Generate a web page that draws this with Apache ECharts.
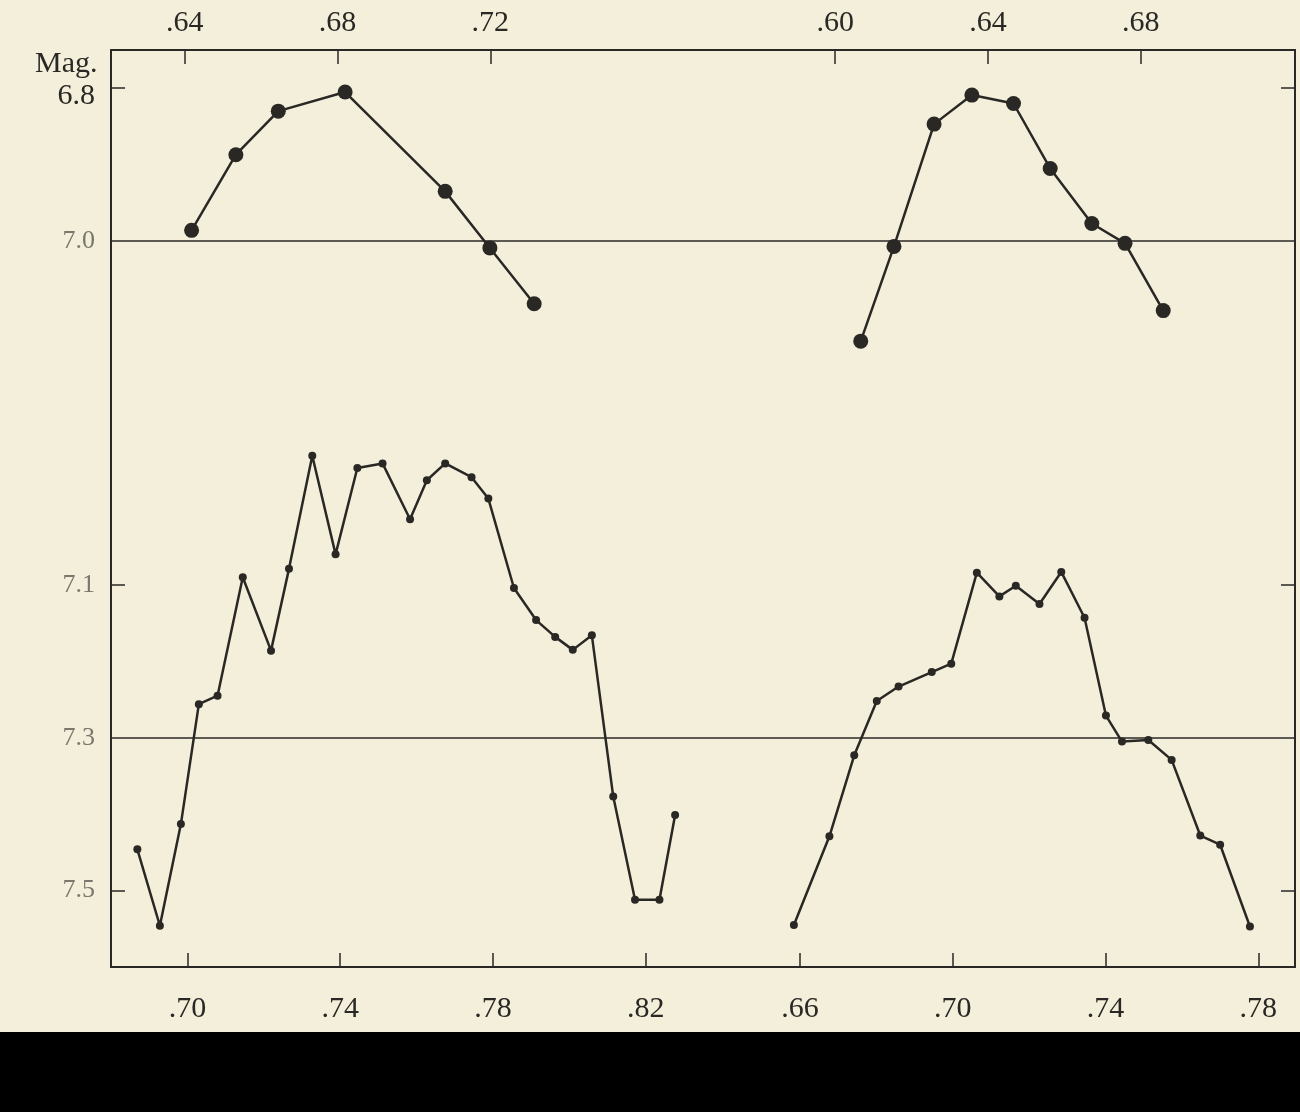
<!DOCTYPE html>
<html><head><meta charset="utf-8">
<script src="https://cdn.jsdelivr.net/npm/echarts@6/dist/echarts.min.js"></script>
<style>html,body{margin:0;padding:0;background:#f3efdb;} #c{width:1300px;height:1112px;}</style>
</head><body><div id="c"></div>
<script>
// Upper-left curve (top scale .64-.72)
const ulPhase = [0.6418, 0.6534, 0.6645, 0.6820, 0.7082, 0.7199, 0.7315];
const ulMag   = [6.986, 6.887, 6.830, 6.805, 6.935, 7.009, 7.082];
// Upper-right curve (top scale .60-.68)
const urPhase = [0.6067, 0.6154, 0.6259, 0.6358, 0.6467, 0.6563, 0.6672, 0.6759, 0.6859];
const urMag   = [7.131, 7.007, 6.847, 6.809, 6.820, 6.905, 6.977, 7.003, 7.091];
// Lower-left curve (bottom scale .70-.82)
const llPhase = [0.6869, 0.6928, 0.6983, 0.7030, 0.7079, 0.7145, 0.7219, 0.7266, 0.7327, 0.7388,
                 0.7445, 0.7511, 0.7583, 0.7627, 0.7675, 0.7744, 0.7788, 0.7855, 0.7913, 0.7963,
                 0.8009, 0.8059, 0.8115, 0.8172, 0.8236, 0.8277];
const llMag   = [7.446, 7.546, 7.413, 7.256, 7.245, 7.090, 7.186, 7.079, 6.931, 7.060,
                 6.947, 6.941, 7.014, 6.963, 6.941, 6.959, 6.987, 7.104, 7.146, 7.168,
                 7.185, 7.166, 7.377, 7.512, 7.512, 7.401];
// Lower-right curve (bottom scale .66-.78)
const lrPhase = [0.6584, 0.6677, 0.6742, 0.6801, 0.6858, 0.6945, 0.6996, 0.7063, 0.7122, 0.7165,
                 0.7227, 0.7284, 0.7345, 0.7401, 0.7443, 0.7512, 0.7573, 0.7648, 0.7700, 0.7778];
const lrMag   = [7.545, 7.429, 7.323, 7.252, 7.233, 7.214, 7.203, 7.084, 7.115, 7.101,
                 7.125, 7.083, 7.143, 7.271, 7.305, 7.303, 7.329, 7.428, 7.440, 7.547];

// Tick labels
const ulTicks = [0.64, 0.68, 0.72];
const urTicks = [0.60, 0.64, 0.68];
const llTicks = [0.70, 0.74, 0.78, 0.82];
const lrTicks = [0.66, 0.70, 0.74, 0.78];
const upperMagLabels = [6.8, 7.0];
const upperMagTicks = [6.8];
const lowerMagLabels = [7.1, 7.3, 7.5];
const lowerMagTicks = [7.1, 7.5];
const upperRefLine = 7.0;
const lowerRefLine = 7.3;

const INK = '#2a2824';
const FONT = 'Liberation Serif';
const GRID = {left: 111, top: 50, width: 1184, height: 917};

function zip(a, b) { return a.map((v, i) => [v, b[i]]); }
function phaseFmt(v) { return '.' + String(Math.round(v * 100)).padStart(2, '0'); }

function xAxis(gridIndex, position, min, max, ticks) {
  return {
    type: 'value', gridIndex, position, min, max,
    axisLine: {show: false}, splitLine: {show: false},
    axisTick: {show: true, inside: true, length: 14, customValues: ticks, lineStyle: {color: INK, width: 1.5}},
    axisLabel: {customValues: ticks, formatter: phaseFmt, margin: position === 'top' ? 12 : 27,
                color: INK, fontSize: 30, fontFamily: FONT}
  };
}
function yAxis(gridIndex, position, min, max, ticks, labels, show) {
  return {
    type: 'value', gridIndex, position, min, max, inverse: true, show: show,
    axisLine: {show: false}, splitLine: {show: false},
    axisTick: {show: ticks.length > 0, inside: true, length: 14, customValues: ticks.length ? ticks : [min],
               lineStyle: {color: INK, width: 1.5}},
    axisLabel: {show: labels.length > 0, customValues: labels.length ? labels : [min], margin: 16,
      formatter: v => Math.abs(v - 6.8) < 1e-6 ? '{d|6.8}' : '{g|' + v.toFixed(1) + '}',
      rich: {d: {color: INK, fontSize: 30, fontFamily: FONT, padding: [16, 0, 0, 0]},
             g: {color: '#7a776c', fontSize: 26, fontFamily: FONT}}}
  };
}
function lineSeries(x, y, xi, yi, size, refLine) {
  const s = {
    type: 'line', xAxisIndex: xi, yAxisIndex: yi, data: zip(x, y),
    symbol: 'circle', symbolSize: size, showSymbol: true,
    lineStyle: {color: INK, width: 2.5}, itemStyle: {color: INK}, silent: true
  };
  if (refLine !== undefined) {
    s.markLine = {silent: true, symbol: ['none', 'none'], label: {show: false},
      lineStyle: {color: INK, width: 1.5, type: 'solid'}, data: [{yAxis: refLine}]};
  }
  return s;
}

const chart = echarts.init(document.getElementById('c'));
chart.setOption({
  backgroundColor: '#f3efdb',
  animation: false,
  title: {text: 'Mag.', left: 30, top: 44, textStyle: {color: INK, fontSize: 30, fontWeight: 'normal', fontFamily: FONT}},
  grid: [
    Object.assign({show: true, borderColor: INK, borderWidth: 2, backgroundColor: 'transparent'}, GRID),
    Object.assign({}, GRID), Object.assign({}, GRID), Object.assign({}, GRID)
  ],
  xAxis: [
    xAxis(0, 'top', 0.6207, 0.9307, ulTicks),
    xAxis(1, 'top', 0.4104, 0.7204, urTicks),
    xAxis(2, 'bottom', 0.6800, 0.9900, llTicks),
    xAxis(3, 'bottom', 0.4796, 0.7896, lrTicks)
  ],
  yAxis: [
    yAxis(0, 'left', 6.75, 7.95, upperMagTicks, upperMagLabels, true),
    yAxis(0, 'right', 6.75, 7.95, upperMagTicks, [], true),
    yAxis(1, 'left', 6.75, 7.95, [], [], false),
    yAxis(2, 'left', 6.4, 7.6, lowerMagTicks, lowerMagLabels, true),
    yAxis(2, 'right', 6.4, 7.6, lowerMagTicks, [], true),
    yAxis(3, 'left', 6.4, 7.6, [], [], false)
  ],
  series: [
    lineSeries(ulPhase, ulMag, 0, 0, 15, upperRefLine),
    lineSeries(urPhase, urMag, 1, 2, 15),
    lineSeries(llPhase, llMag, 2, 3, 8, lowerRefLine),
    lineSeries(lrPhase, lrMag, 3, 5, 8)
  ],
  graphic: [{type: 'rect', silent: true, shape: {x: 0, y: 1032, width: 1300, height: 80}, style: {fill: '#000'}}]
});
</script></body></html>
